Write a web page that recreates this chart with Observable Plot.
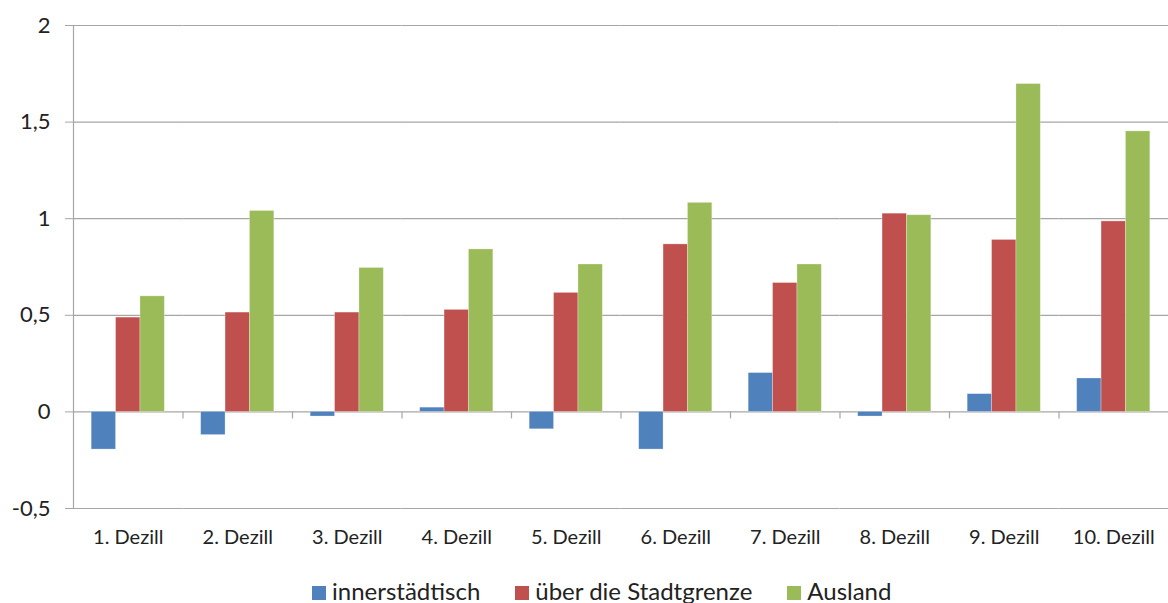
<!DOCTYPE html>
<html>
<head>
<meta charset="utf-8">
<script src="https://cdn.jsdelivr.net/npm/d3@7"></script>
<script src="https://cdn.jsdelivr.net/npm/@observablehq/plot@0.6"></script>
<style>
  html, body { margin: 0; padding: 0; background: #fff; }
  body { width: 1168px; height: 603px; position: relative; overflow: hidden; font-family: Lato, "Open Sans", sans-serif; }
  #chart svg { display: block; }
  #legend { position: absolute; left: 312px; top: 576px; display: flex; align-items: center; font-size: 24px; color: #222; line-height: 30px; }
  #legend .item { display: flex; align-items: center; margin-right: 35px; }
  #legend .sw { width: 14px; height: 14px; margin-right: 6px; margin-top: 4px; }
</style>
</head>
<body>
<div id="chart"></div>
<div id="legend"></div>
<script>
const dezile = ["1. Dezill", "2. Dezill", "3. Dezill", "4. Dezill", "5. Dezill", "6. Dezill", "7. Dezill", "8. Dezill", "9. Dezill", "10. Dezill"];
const series = ["innerstädtisch", "über die Stadtgrenze", "Ausland"];
const colors = ["#4F81BD", "#C0504D", "#9BBB59"];
const innerstaedtisch = [-0.195, -0.12, -0.024, 0.022, -0.09, -0.195, 0.201, -0.024, 0.092, 0.173];
const stadtgrenze = [0.488, 0.514, 0.514, 0.528, 0.616, 0.867, 0.667, 1.026, 0.890, 0.986];
const ausland = [0.598, 1.04, 0.745, 0.841, 0.763, 1.082, 0.763, 1.018, 1.697, 1.452];
const yTicks = [-0.5, 0, 0.5, 1, 1.5, 2];

const values = [innerstaedtisch, stadtgrenze, ausland];
const data = [];
dezile.forEach((d, i) => series.forEach((s, j) => data.push({dezil: d, serie: s, value: values[j][i]})));

const W = 1168, H = 560, ML = 73, MR = 0;
const facetW = (W - ML - MR) / dezile.length;
const grid = "#a6a6a6";

const chart = Plot.plot({
  width: W,
  height: H,
  marginLeft: ML,
  marginRight: MR,
  marginTop: 25,
  marginBottom: 52,
  style: {fontFamily: "Lato, 'Open Sans', sans-serif", fontSize: "20px", color: "#222", background: "#fff"},
  fx: {domain: dezile, padding: 0, label: null, tickSize: 0, tickPadding: 21, round: false},
  x: {domain: series, paddingInner: 0, paddingOuter: 0.745, axis: null, round: false},
  y: {domain: [-0.5, 2], axis: null},
  color: {domain: series, range: colors},
  marks: [
    Plot.ruleY(yTicks, {stroke: grid, strokeWidth: 1.2}),
    Plot.axisY({ticks: yTicks, label: null, tickSize: 8, tickPadding: 15, stroke: grid, fontSize: 22, tickFormat: d => String(d).replace(".", ","), anchor: "left"}),
    Plot.ruleX([dezile[0]], {fx: d => d, x: null, dx: -facetW / 2, stroke: grid, strokeWidth: 1.2}),
    Plot.ruleX(dezile.slice(1), {fx: d => d, x: null, dx: -facetW / 2, y1: 0, y2: 0, insetBottom: -7, stroke: grid, strokeWidth: 1.2}),
    Plot.barY(data, {fx: "dezil", x: "serie", y: "value", fill: "serie", stroke: "#ffffff", strokeOpacity: 0.35, strokeWidth: 0.8})
  ]
});
document.getElementById("chart").appendChild(chart);

const legend = document.getElementById("legend");
series.forEach((s, i) => {
  const item = document.createElement("div");
  item.className = "item";
  const sw = document.createElement("span");
  sw.className = "sw";
  sw.style.background = colors[i];
  const t = document.createElement("span");
  t.textContent = s;
  item.appendChild(sw);
  item.appendChild(t);
  legend.appendChild(item);
});
</script>
</body>
</html>
